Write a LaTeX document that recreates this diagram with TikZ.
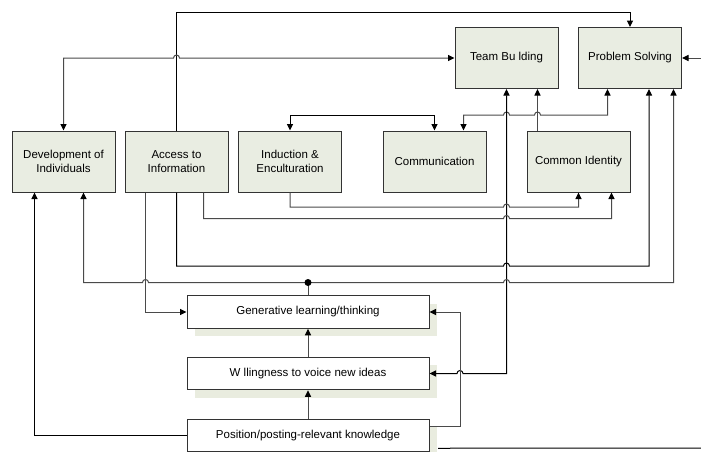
\documentclass[tikz,border=0pt]{standalone}
\usepackage{fontspec}
\setmainfont{Liberation Sans}
\usetikzlibrary{arrows.meta,calc,shadows}

\definecolor{boxfill}{HTML}{E9EDE2}
\definecolor{shade}{HTML}{E9ECDF}
\definecolor{edge}{HTML}{333333}
\definecolor{wire}{HTML}{4A4A4A}

\tikzset{
  label font/.style={font=\fontsize{11.5}{13.5}\selectfont},
  topbox/.style={draw=edge, line width=1pt, fill=boxfill, minimum width=103pt,
    minimum height=61pt, inner sep=0pt, align=center, label font},
  levelbox/.style={draw=edge, line width=1pt, fill=white, minimum width=242pt,
    minimum height=32.5pt, inner sep=0pt, label font,
    general shadow={fill=shade, shadow xshift=8pt, shadow yshift=-8pt}},
  link/.style={draw=wire, line width=1pt},
  darklink/.style={draw=black, line width=1pt},
}

\begin{document}
\begin{tikzpicture}[x=1pt, y=1pt, >={Triangle[length=6.5pt,width=6pt,color=black]}]
\useasboundingbox (0,0) rectangle (701,-451);

% outcome boxes
\node[topbox] (dev) at (63.5,-161.5) {Development of\\Individuals};
\node[topbox] (acc) at (176.5,-161.5) {Access to\\Information};
\node[topbox] (ind) at (290,-161.5) {Induction \&\\Enculturation};
\node[topbox] (com) at (434.5,-161.5) {Communication};
\node[topbox] (cid) at (578.5,-161.5) {Common Identity};
\node[topbox] (tb)  at (506.5,-58) {Team Bu lding};
\node[topbox] (ps)  at (630,-58) {Problem Solving};

% levels
\node[levelbox] (gen) at (308,-312) {Generative learning/thinking};
\node[levelbox] (wil) at (308,-373.5) {W llingness to voice new ideas};
\node[levelbox] (pos) at (308,-435.5) {Position/posting-relevant knowledge};

% loose ends at the right border
\coordinate (inR)  at (701,-58);
\coordinate (outR) at (701,-448);
\coordinate (hub)  at (308,-282.5);

% access -> problem solving over the top
\draw[darklink,->] (acc.north) -- (176.5,-12) -| (ps.north);
% team building <-> development
\draw[link,<->] (tb.west) -- (179.5,-58) arc[start angle=0,end angle=180,radius=3pt]
  -- (63.5,-58) -- (dev.north);
% induction <-> communication
\draw[darklink,<->] (ind.north) -- (290,-115) -| (com.north);
% problem solving <-> communication
\draw[link,<->] ($(ps.south)+(-22.5,0)$) -- (607.5,-115) -- (540.5,-115)
  arc[start angle=0,end angle=180,radius=3pt] -- (509.5,-115)
  arc[start angle=0,end angle=180,radius=3pt] -- (463.5,-115)
  -- ($(com.north)+(29,0)$);
% team building <-> willingness
\draw[darklink,<->] (tb.south) -- (506.5,-373.5) -- (463,-373.5)
  arc[start angle=0,end angle=180,radius=3pt] -- (wil.east);
% common identity -> team building
\draw[link,->] ($(cid.north)+(-41,0)$) -- ($(tb.south)+(31,0)$);
% induction -> common identity
\draw[link,->] (ind.south) -- (290,-207) -- (503.5,-207)
  arc[start angle=180,end angle=0,radius=3pt] -- (578.5,-207) -- (cid.south);
% access -> common identity
\draw[link,->] ($(acc.south)+(27,0)$) -- (203.5,-218.5) -- (503.5,-218.5)
  arc[start angle=180,end angle=0,radius=3pt] -- (611.5,-218.5)
  -- ($(cid.south)+(33,0)$);
% access -> problem solving underneath
\draw[darklink,->] (acc.south) -- (176.5,-266) -- (503.5,-266)
  arc[start angle=180,end angle=0,radius=3pt] -- (649,-266)
  -- ($(ps.south)+(19,0)$);
% access -> generative learning
\draw[link,->] ($(acc.south)+(-31,0)$) |- (gen.west);
% generative learning feeds development and problem solving
\draw[link] (gen.north) -- (hub);
\draw[link,->] (hub) -- (148.5,-282.5) arc[start angle=0,end angle=180,radius=3pt]
  -- (83.5,-282.5) -- ($(dev.south)+(20,0)$);
\draw[link,->] (hub) -- (503.5,-282.5) arc[start angle=180,end angle=0,radius=3pt]
  -- (673.5,-282.5) -- ($(ps.south)+(43.5,0)$);
\fill[black] (hub) circle (3.5pt);
% position knowledge -> development
\draw[darklink,->] (pos.west) -- (34.5,-435.5) -- ($(dev.south)+(-29,0)$);
% position knowledge -> generative learning
\draw[link,->] ($(pos.east)+(0,9.5)$) -- (460,-426) |- (gen.east);
% stacked levels
\draw[link,->] (pos.north) -- (wil.south);
\draw[link,->] (wil.north) -- (gen.south);
% border connectors
\draw[darklink] ($(pos.south east)+(8.5,4)$) -- (outR);
\draw[link,->] (inR) -- (ps.east);
\end{tikzpicture}
\end{document}
